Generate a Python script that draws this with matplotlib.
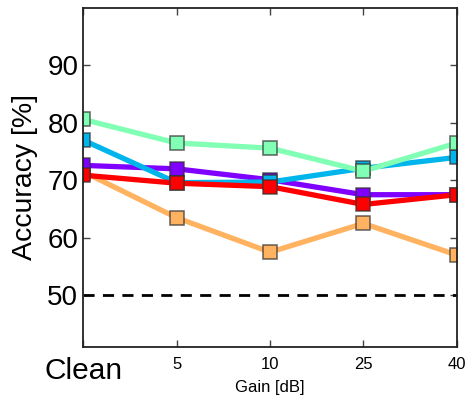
import numpy as np
import matplotlib
matplotlib.use("Agg")
import matplotlib.pyplot as plt

plt.rcParams['font.family'] = ['Liberation Sans', 'DejaVu Sans']

gain_labels = ['Clean', '5', '10', '25', '40']
acc_orange = [71.5, 63.5, 57.5, 62.5, 57.0]
acc_purple = [72.6, 72.0, 70.1, 67.5, 67.5]
acc_blue = [77.0, 69.6, 69.7, 72.1, 74.0]
acc_red = [70.9, 69.5, 68.9, 65.8, 67.5]
acc_green = [80.6, 76.5, 75.6, 71.6, 76.5]
chance = 50

cmap = plt.get_cmap('rainbow')
series = [
    (acc_orange, cmap(0.75)),
    (acc_purple, cmap(0.0)),
    (acc_blue, cmap(0.25)),
    (acc_red, cmap(1.0)),
    (acc_green, cmap(0.5)),
]

fig = plt.figure(figsize=(4.7, 3.97), dpi=100)
ax = fig.add_axes([0.177, 0.126, 0.795, 0.854])

x = np.arange(len(gain_labels))
for vals, col in series:
    ax.plot(x, vals, '-s', color=col, lw=3.8, ms=10,
            mec=(0.2, 0.2, 0.2, 0.7), mew=1.2)

ax.axhline(chance, color='k', ls='--', lw=2, dashes=(4, 3))

ax.set_xlim(0, 4)
ax.set_ylim(41, 100)
ax.set_yticks([50, 60, 70, 80, 90])
ax.set_xticks(x)
ax.set_xticklabels(gain_labels, fontsize=12)
ax.get_xticklabels()[0].set_fontsize(21.5)
ax.tick_params(axis='y', labelsize=20)
ax.tick_params(axis='x', pad=7)
ax.tick_params(direction='in', top=True, right=True, length=5, width=1, color='#444444')
ax.set_xlabel('Gain [dB]', fontsize=12)
ax.xaxis.set_label_coords(0.5, -0.097)
ax.set_ylabel('Accuracy [%]', fontsize=20.5, labelpad=7)
for s in ax.spines.values():
    s.set_linewidth(1.3)
    s.set_color('#222222')

fig.savefig('out.png', dpi=100)
